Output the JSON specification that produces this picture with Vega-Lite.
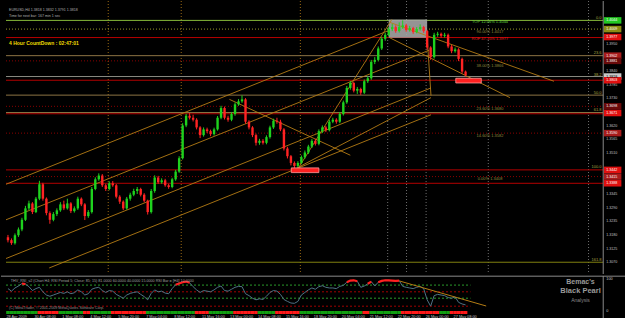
{
"$schema": "https://vega.github.io/schema/vega-lite/v6.json",
"background": "#000000",
"padding": 0,
"spacing": 0,
"config": {"view": {"stroke": null}, "axis": {"disable": true}, "text": {"font": "Liberation Sans"}},
"datasets": {
"bars": [
{"i":0,"o":1.3171,"h":1.3180,"l":1.3150,"c":1.3159,"r":70,"s":"g"},
{"i":1,"o":1.3159,"h":1.3166,"l":1.3140,"c":1.3147,"r":62,"s":"g"},
{"i":2,"o":1.3147,"h":1.3186,"l":1.3141,"c":1.3179,"r":72,"s":"g"},
{"i":3,"o":1.3179,"h":1.3210,"l":1.3172,"c":1.3202,"r":78,"s":"g"},
{"i":4,"o":1.3202,"h":1.3249,"l":1.3195,"c":1.3241,"r":86,"s":"g","ob":"a"},
{"i":5,"o":1.3241,"h":1.3297,"l":1.3236,"c":1.3287,"r":84,"s":"g","ob":"a"},
{"i":6,"o":1.3287,"h":1.3318,"l":1.3280,"c":1.3307,"r":76,"s":"g"},
{"i":7,"o":1.3307,"h":1.3312,"l":1.3264,"c":1.3272,"r":64,"s":"g"},
{"i":8,"o":1.3272,"h":1.3333,"l":1.3268,"c":1.3326,"r":70,"s":"g"},
{"i":9,"o":1.3326,"h":1.3398,"l":1.3320,"c":1.3384,"r":74,"s":"r"},
{"i":10,"o":1.3384,"h":1.3390,"l":1.3318,"c":1.3326,"r":60,"s":"r"},
{"i":11,"o":1.3326,"h":1.3331,"l":1.3259,"c":1.3268,"r":50,"s":"r"},
{"i":12,"o":1.3268,"h":1.3275,"l":1.3225,"c":1.3241,"r":46,"s":"r"},
{"i":13,"o":1.3241,"h":1.3272,"l":1.3235,"c":1.3264,"r":50,"s":"r"},
{"i":14,"o":1.3264,"h":1.3287,"l":1.3256,"c":1.3279,"r":54,"s":"r"},
{"i":15,"o":1.3279,"h":1.3312,"l":1.3273,"c":1.3303,"r":58,"s":"g"},
{"i":16,"o":1.3303,"h":1.3318,"l":1.3280,"c":1.3287,"r":55,"s":"g"},
{"i":17,"o":1.3287,"h":1.3326,"l":1.3282,"c":1.3307,"r":60,"s":"g"},
{"i":18,"o":1.3307,"h":1.3312,"l":1.3268,"c":1.3276,"r":54,"s":"g"},
{"i":19,"o":1.3276,"h":1.3295,"l":1.3270,"c":1.3287,"r":57,"s":"g"},
{"i":20,"o":1.3287,"h":1.3334,"l":1.3281,"c":1.3326,"r":66,"s":"g"},
{"i":21,"o":1.3326,"h":1.3331,"l":1.3296,"c":1.3303,"r":60,"s":"g"},
{"i":22,"o":1.3303,"h":1.3308,"l":1.3240,"c":1.3256,"r":50,"s":"r"},
{"i":23,"o":1.3256,"h":1.3280,"l":1.3249,"c":1.3272,"r":54,"s":"r"},
{"i":24,"o":1.3272,"h":1.3373,"l":1.3266,"c":1.3365,"r":68,"s":"g"},
{"i":25,"o":1.3365,"h":1.3412,"l":1.3360,"c":1.3404,"r":72,"s":"g"},
{"i":26,"o":1.3404,"h":1.3428,"l":1.3398,"c":1.3419,"r":74,"s":"g"},
{"i":27,"o":1.3419,"h":1.3425,"l":1.3373,"c":1.3380,"r":64,"s":"g"},
{"i":28,"o":1.3380,"h":1.3386,"l":1.3357,"c":1.3365,"r":58,"s":"g"},
{"i":29,"o":1.3365,"h":1.3396,"l":1.3360,"c":1.3388,"r":64,"s":"g"},
{"i":30,"o":1.3388,"h":1.3397,"l":1.3374,"c":1.3380,"r":62,"s":"r"},
{"i":31,"o":1.3380,"h":1.3385,"l":1.3327,"c":1.3334,"r":52,"s":"r"},
{"i":32,"o":1.3334,"h":1.3340,"l":1.3305,"c":1.3314,"r":46,"s":"r"},
{"i":33,"o":1.3314,"h":1.3319,"l":1.3280,"c":1.3287,"r":40,"s":"r"},
{"i":34,"o":1.3287,"h":1.3333,"l":1.3282,"c":1.3326,"r":50,"s":"r"},
{"i":35,"o":1.3326,"h":1.3350,"l":1.3318,"c":1.3342,"r":55,"s":"r"},
{"i":36,"o":1.3342,"h":1.3366,"l":1.3336,"c":1.3357,"r":58,"s":"r"},
{"i":37,"o":1.3357,"h":1.3373,"l":1.3345,"c":1.3365,"r":60,"s":"r"},
{"i":38,"o":1.3365,"h":1.3370,"l":1.3335,"c":1.3342,"r":52,"s":"r"},
{"i":39,"o":1.3342,"h":1.3348,"l":1.3311,"c":1.3318,"r":45,"s":"r"},
{"i":40,"o":1.3318,"h":1.3322,"l":1.3262,"c":1.3272,"r":35,"s":"g"},
{"i":41,"o":1.3272,"h":1.3365,"l":1.3266,"c":1.3357,"r":55,"s":"g"},
{"i":42,"o":1.3357,"h":1.3420,"l":1.3350,"c":1.3411,"r":66,"s":"g"},
{"i":43,"o":1.3411,"h":1.3418,"l":1.3386,"c":1.3392,"r":60,"s":"g"},
{"i":44,"o":1.3392,"h":1.3408,"l":1.3386,"c":1.3400,"r":62,"s":"g"},
{"i":45,"o":1.3400,"h":1.3406,"l":1.3374,"c":1.3380,"r":56,"s":"g"},
{"i":46,"o":1.3380,"h":1.3386,"l":1.3366,"c":1.3373,"r":54,"s":"g"},
{"i":47,"o":1.3373,"h":1.3410,"l":1.3368,"c":1.3404,"r":70,"s":"g"},
{"i":48,"o":1.3404,"h":1.3442,"l":1.3398,"c":1.3435,"r":82,"s":"g","ob":"b"},
{"i":49,"o":1.3435,"h":1.3497,"l":1.3430,"c":1.3489,"r":86,"s":"g","ob":"b"},
{"i":50,"o":1.3489,"h":1.3630,"l":1.3484,"c":1.3621,"r":90,"s":"g","ob":"b"},
{"i":51,"o":1.3621,"h":1.3668,"l":1.3614,"c":1.3660,"r":92,"s":"g","ob":"b"},
{"i":52,"o":1.3660,"h":1.3671,"l":1.3645,"c":1.3652,"r":88,"s":"g","ob":"b"},
{"i":53,"o":1.3652,"h":1.3664,"l":1.3637,"c":1.3644,"r":76,"s":"g"},
{"i":54,"o":1.3644,"h":1.3650,"l":1.3605,"c":1.3613,"r":66,"s":"r"},
{"i":55,"o":1.3613,"h":1.3618,"l":1.3570,"c":1.3582,"r":58,"s":"r"},
{"i":56,"o":1.3582,"h":1.3613,"l":1.3576,"c":1.3605,"r":64,"s":"r"},
{"i":57,"o":1.3605,"h":1.3612,"l":1.3590,"c":1.3598,"r":62,"s":"r"},
{"i":58,"o":1.3598,"h":1.3604,"l":1.3578,"c":1.3586,"r":60,"s":"g"},
{"i":59,"o":1.3586,"h":1.3612,"l":1.3580,"c":1.3605,"r":66,"s":"g"},
{"i":60,"o":1.3605,"h":1.3659,"l":1.3600,"c":1.3652,"r":74,"s":"g"},
{"i":61,"o":1.3652,"h":1.3700,"l":1.3646,"c":1.3691,"r":78,"s":"g"},
{"i":62,"o":1.3691,"h":1.3697,"l":1.3645,"c":1.3652,"r":64,"s":"g"},
{"i":63,"o":1.3652,"h":1.3660,"l":1.3636,"c":1.3644,"r":62,"s":"g"},
{"i":64,"o":1.3644,"h":1.3675,"l":1.3638,"c":1.3667,"r":68,"s":"g"},
{"i":65,"o":1.3667,"h":1.3713,"l":1.3660,"c":1.3706,"r":74,"s":"r"},
{"i":66,"o":1.3706,"h":1.3727,"l":1.3700,"c":1.3718,"r":77,"s":"r"},
{"i":67,"o":1.3718,"h":1.3742,"l":1.3712,"c":1.3726,"r":76,"s":"r"},
{"i":68,"o":1.3726,"h":1.3731,"l":1.3628,"c":1.3636,"r":54,"s":"r"},
{"i":69,"o":1.3636,"h":1.3642,"l":1.3605,"c":1.3613,"r":48,"s":"r"},
{"i":70,"o":1.3613,"h":1.3618,"l":1.3574,"c":1.3582,"r":40,"s":"r"},
{"i":71,"o":1.3582,"h":1.3588,"l":1.3540,"c":1.3551,"r":35,"s":"r"},
{"i":72,"o":1.3551,"h":1.3567,"l":1.3543,"c":1.3559,"r":38,"s":"g"},
{"i":73,"o":1.3559,"h":1.3566,"l":1.3544,"c":1.3551,"r":36,"s":"g"},
{"i":74,"o":1.3551,"h":1.3581,"l":1.3545,"c":1.3574,"r":46,"s":"g"},
{"i":75,"o":1.3574,"h":1.3620,"l":1.3568,"c":1.3613,"r":58,"s":"g"},
{"i":76,"o":1.3613,"h":1.3648,"l":1.3607,"c":1.3640,"r":64,"s":"g"},
{"i":77,"o":1.3640,"h":1.3652,"l":1.3628,"c":1.3636,"r":62,"s":"r"},
{"i":78,"o":1.3636,"h":1.3644,"l":1.3598,"c":1.3605,"r":52,"s":"r"},
{"i":79,"o":1.3605,"h":1.3610,"l":1.3520,"c":1.3528,"r":36,"s":"r"},
{"i":80,"o":1.3528,"h":1.3535,"l":1.3488,"c":1.3497,"r":30,"s":"r"},
{"i":81,"o":1.3497,"h":1.3502,"l":1.3460,"c":1.3470,"r":25,"s":"r"},
{"i":82,"o":1.3470,"h":1.3476,"l":1.3442,"c":1.3458,"r":24,"s":"r"},
{"i":83,"o":1.3458,"h":1.3477,"l":1.3450,"c":1.3470,"r":30,"s":"r"},
{"i":84,"o":1.3470,"h":1.3500,"l":1.3465,"c":1.3493,"r":50,"s":"g"},
{"i":85,"o":1.3493,"h":1.3520,"l":1.3487,"c":1.3512,"r":58,"s":"g"},
{"i":86,"o":1.3512,"h":1.3543,"l":1.3506,"c":1.3536,"r":66,"s":"g"},
{"i":87,"o":1.3536,"h":1.3566,"l":1.3530,"c":1.3559,"r":72,"s":"g"},
{"i":88,"o":1.3559,"h":1.3567,"l":1.3540,"c":1.3547,"r":68,"s":"g"},
{"i":89,"o":1.3547,"h":1.3605,"l":1.3541,"c":1.3598,"r":76,"s":"g"},
{"i":90,"o":1.3598,"h":1.3621,"l":1.3590,"c":1.3613,"r":79,"s":"g"},
{"i":91,"o":1.3613,"h":1.3619,"l":1.3594,"c":1.3602,"r":74,"s":"g"},
{"i":92,"o":1.3602,"h":1.3644,"l":1.3597,"c":1.3636,"r":72,"s":"g"},
{"i":93,"o":1.3636,"h":1.3652,"l":1.3630,"c":1.3644,"r":72,"s":"g"},
{"i":94,"o":1.3644,"h":1.3650,"l":1.3628,"c":1.3636,"r":70,"s":"g"},
{"i":95,"o":1.3636,"h":1.3675,"l":1.3630,"c":1.3667,"r":77,"s":"g"},
{"i":96,"o":1.3667,"h":1.3721,"l":1.3661,"c":1.3714,"r":80,"s":"g"},
{"i":97,"o":1.3714,"h":1.3780,"l":1.3708,"c":1.3772,"r":90,"s":"g","ob":"c"},
{"i":98,"o":1.3772,"h":1.3800,"l":1.3765,"c":1.3792,"r":95,"s":"g","ob":"c"},
{"i":99,"o":1.3792,"h":1.3797,"l":1.3754,"c":1.3761,"r":96,"s":"g","ob":"c"},
{"i":100,"o":1.3761,"h":1.3776,"l":1.3748,"c":1.3768,"r":93,"s":"g","ob":"c"},
{"i":101,"o":1.3768,"h":1.3773,"l":1.3744,"c":1.3753,"r":74,"s":"g"},
{"i":102,"o":1.3753,"h":1.3806,"l":1.3748,"c":1.3799,"r":78,"s":"r"},
{"i":103,"o":1.3799,"h":1.3819,"l":1.3792,"c":1.3811,"r":85,"s":"r","ob":"d"},
{"i":104,"o":1.3811,"h":1.3885,"l":1.3805,"c":1.3877,"r":92,"s":"g","ob":"d"},
{"i":105,"o":1.3877,"h":1.3896,"l":1.3868,"c":1.3885,"r":78,"s":"g"},
{"i":106,"o":1.3885,"h":1.3939,"l":1.3879,"c":1.3931,"r":90,"s":"g","ob":"e"},
{"i":107,"o":1.3931,"h":1.3978,"l":1.3925,"c":1.3970,"r":94,"s":"g","ob":"e"},
{"i":108,"o":1.3970,"h":1.3994,"l":1.3962,"c":1.3986,"r":96,"s":"g","ob":"e"},
{"i":109,"o":1.3986,"h":1.4017,"l":1.3980,"c":1.4009,"r":96,"s":"g","ob":"e"},
{"i":110,"o":1.4009,"h":1.4030,"l":1.4001,"c":1.4017,"r":95,"s":"g","ob":"e"},
{"i":111,"o":1.4017,"h":1.4024,"l":1.3994,"c":1.4001,"r":94,"s":"g","ob":"e"},
{"i":112,"o":1.4001,"h":1.4036,"l":1.3995,"c":1.4017,"r":95,"s":"g","ob":"e"},
{"i":113,"o":1.4017,"h":1.4044,"l":1.4010,"c":1.4024,"r":77,"s":"r"},
{"i":114,"o":1.4024,"h":1.4030,"l":1.3998,"c":1.4005,"r":74,"s":"r"},
{"i":115,"o":1.4005,"h":1.4022,"l":1.3999,"c":1.4013,"r":72,"s":"r"},
{"i":116,"o":1.4013,"h":1.4018,"l":1.3990,"c":1.3997,"r":70,"s":"r"},
{"i":117,"o":1.3997,"h":1.4017,"l":1.3992,"c":1.4009,"r":74,"s":"r"},
{"i":118,"o":1.4009,"h":1.4028,"l":1.4003,"c":1.4017,"r":77,"s":"r"},
{"i":119,"o":1.4017,"h":1.4022,"l":1.3994,"c":1.4001,"r":70,"s":"r"},
{"i":120,"o":1.4001,"h":1.4006,"l":1.3926,"c":1.3935,"r":35,"s":"r"},
{"i":121,"o":1.3935,"h":1.3940,"l":1.3885,"c":1.3896,"r":15,"s":"r"},
{"i":122,"o":1.3896,"h":1.3994,"l":1.3890,"c":1.3986,"r":48,"s":"r"},
{"i":123,"o":1.3986,"h":1.3998,"l":1.3978,"c":1.3990,"r":52,"s":"r"},
{"i":124,"o":1.3990,"h":1.3995,"l":1.3974,"c":1.3982,"r":50,"s":"g"},
{"i":125,"o":1.3982,"h":1.3994,"l":1.3975,"c":1.3986,"r":48,"s":"g"},
{"i":126,"o":1.3986,"h":1.3991,"l":1.3932,"c":1.3939,"r":42,"s":"g"},
{"i":127,"o":1.3939,"h":1.3945,"l":1.3912,"c":1.3920,"r":40,"s":"r"},
{"i":128,"o":1.3920,"h":1.3935,"l":1.3914,"c":1.3927,"r":44,"s":"r"},
{"i":129,"o":1.3927,"h":1.3932,"l":1.3880,"c":1.3889,"r":27,"s":"r"},
{"i":130,"o":1.3889,"h":1.3894,"l":1.3830,"c":1.3838,"r":22,"s":"r"},
{"i":131,"o":1.3838,"h":1.3842,"l":1.3818,"c":1.3823,"r":19,"s":"r"}
],
"hl": [
{"p":1.4044,"k":"top"},{"p":1.4009,"k":"dot"},{"p":1.3975,"k":"red"},{"p":1.3902,"k":"fib"},
{"p":1.3881,"k":"rdot"},{"p":1.3818,"k":"grey"},{"p":1.3803,"k":"red"},{"p":1.3743,"k":"fib"},
{"p":1.3698,"k":"rdot"},{"p":1.3673,"k":"fib"},{"p":1.3668,"k":"red"},{"p":1.3590,"k":"rdot"},
{"p":1.3442,"k":"red"},{"p":1.3415,"k":"rdot"},{"p":1.3388,"k":"red"},{"p":1.3070,"k":"olive"}
],
"vl": [
{"i":28.7,"k":"vo"},{"i":49.6,"k":"vo"},{"i":83.7,"k":"vo"},{"i":108.7,"k":"vg"},
{"i":114.1,"k":"vg"},{"i":119.7,"k":"vg"},{"i":137.5,"k":"vg"},{"i":166.2,"k":"vg"}
],
"diag": [
{"id":"L1","i":-0.56,"p":1.3384},{"id":"L1","i":109.3,"p":1.4005},
{"id":"L2","i":-0.56,"p":1.3241},{"id":"L2","i":120.6,"p":1.3924},
{"id":"L3","i":-0.56,"p":1.3085},{"id":"L3","i":121.1,"p":1.3772},
{"id":"L4","i":11.8,"p":1.3047},{"id":"L4","i":121.1,"p":1.3664},
{"id":"D1","i":63.4,"p":1.3726},{"id":"D1","i":98.0,"p":1.3501},
{"id":"D2","i":109.3,"p":1.4036},{"id":"D2","i":156.3,"p":1.3799},
{"id":"D3","i":109.3,"p":1.3974},{"id":"D3","i":143.7,"p":1.3733},
{"id":"F1","i":82.8,"p":1.3442},{"id":"F1","i":109.9,"p":1.4048},
{"id":"F2","i":82.8,"p":1.3450},{"id":"F2","i":121.1,"p":1.3733},
{"id":"D4","i":120.0,"p":1.3978},{"id":"D4","i":121.1,"p":1.3741}
],
"zones": [
{"i1":109.0,"i2":120.0,"p1":1.4048,"p2":1.3974,"k":"box"},
{"i1":81.1,"i2":89.0,"p1":1.3450,"p2":1.3431,"k":"mk"},
{"i1":128.2,"i2":135.5,"p1":1.3811,"p2":1.3792,"k":"mk"}
],
"fibR": [
{"t":"0.0","p":1.4044},{"t":"23.6","p":1.3902},{"t":"38.2","p":1.3814},{"t":"50.0","p":1.3743},
{"t":"61.8","p":1.3672},{"t":"100.0","p":1.3442},{"t":"161.8","p":1.3070}
],
"fibT": [
{"t":"TOP 12.06%  1.4044","p":1.4036,"k":"g"},{"t":"90.00%  1.4017","p":1.3997,"k":"o"},
{"t":"ROF 47.35%  1.3977","p":1.3970,"k":"r"},{"t":"38.00%  1.3866","p":1.3861,"k":"o"},
{"t":"23.60%  1.3680","p":1.3687,"k":"o"},{"t":"14.60%  1.3582","p":1.3578,"k":"o"},
{"t":"0.00%  1.3408","p":1.3407,"k":"o"}
],
"tags": [
{"p":1.4044,"k":"g"},{"p":1.4009,"k":"y"},{"p":1.3977,"k":"r"},{"p":1.3902,"k":"r2"},
{"p":1.3881,"k":"dr"},{"p":1.3818,"k":"w"},{"p":1.3803,"k":"r"},{"p":1.3698,"k":"dr"},
{"p":1.3671,"k":"r"},{"p":1.3590,"k":"r2"},{"p":1.3442,"k":"r"},{"p":1.3415,"k":"r2"},{"p":1.3388,"k":"r"}
],
"ax": [
{"p":1.3950},{"p":1.3840},{"p":1.3785},{"p":1.3730},{"p":1.3620},{"p":1.3565},{"p":1.3510},
{"p":1.3345},{"p":1.3290},{"p":1.3235},{"p":1.3180},{"p":1.3125},{"p":1.3070}
],
"lv": [{"v":81,"k":"g"},{"v":60,"k":"r"},{"v":40,"k":"g"},{"v":15,"k":"r"}],
"dates": [
{"b":0,"t":"28 Apr 2009"},{"b":8,"t":"30 Apr 08:00"},{"b":16,"t":"1 May 08:00"},{"b":24,"t":"4 May 12:00"},
{"b":32,"t":"5 May 20:00"},{"b":40,"t":"7 May 04:00"},{"b":48,"t":"8 May 12:00"},{"b":56,"t":"11 May 16:00"},
{"b":64,"t":"13 May 00:00"},{"b":72,"t":"14 May 08:00"},{"b":80,"t":"15 May 16:00"},{"b":88,"t":"18 May 20:00"},
{"b":96,"t":"20 May 04:00"},{"b":104,"t":"21 May 12:00"},{"b":112,"t":"22 May 20:00"},{"b":120,"t":"26 May 00:00"},
{"b":128,"t":"27 May 08:00"}
]
},
"vconcat": [
{
"width": 625, "height": 273,
"layer": [
{"data": {"name": "vl"}, "mark": {"type": "rule", "strokeWidth": 1},
 "encoding": {
  "x": {"field": "i", "type": "quantitative", "axis": null, "scale": {"domain": [-0.5634, 175.493], "nice": false, "zero": false}},
  "color": {"field": "k", "type": "nominal", "legend": null, "scale": {"domain": ["top","dot","red","fib","rdot","grey","olive","vo","vg"], "range": ["#86b83a","#9a9a2a","#b40000","#8c7444","#8a0000","#8a8a80","#808010","#9a6a14","#6e6e6e"]}},
  "strokeDash": {"field": "k", "type": "nominal", "legend": null, "scale": {"domain": ["top","dot","red","fib","rdot","grey","olive","vo","vg"], "range": [[1,0],[1,2],[1,0],[1,0],[1,2],[1,0],[1,0],[1,2],[1,2]]}}
 }},
{"data": {"name": "hl"}, "mark": {"type": "rule", "strokeWidth": 1},
 "encoding": {
  "y": {"field": "p", "type": "quantitative", "axis": null, "scale": {"domain": [1.30428, 1.4102], "nice": false, "zero": false}},
  "x": {"datum": -0.5634},
  "x2": {"datum": 170.4},
  "color": {"field": "k", "type": "nominal", "legend": null},
  "strokeDash": {"field": "k", "type": "nominal", "legend": null}
 }},
{"data": {"name": "zones"}, "transform": [{"filter": "datum.k == 'box'"}],
 "mark": {"type": "rect", "color": "#a4a4a4", "opacity": 0.9},
 "encoding": {"x": {"field": "i1", "type": "quantitative"}, "x2": {"field": "i2"}, "y": {"field": "p1", "type": "quantitative"}, "y2": {"field": "p2"}}},
{"data": {"name": "diag"}, "mark": {"type": "line", "color": "#b47c14", "strokeWidth": 0.9},
 "encoding": {"x": {"field": "i", "type": "quantitative"}, "y": {"field": "p", "type": "quantitative"}, "detail": {"field": "id"}}},
{"data": {"name": "bars"}, "mark": {"type": "rule", "strokeWidth": 1},
 "encoding": {"x": {"field": "i", "type": "quantitative"}, "y": {"field": "l", "type": "quantitative"}, "y2": {"field": "h"},
  "color": {"condition": {"test": "datum.c >= datum.o", "value": "#1ed21e"}, "value": "#ff2323"}}},
{"data": {"name": "bars"}, "mark": {"type": "bar", "width": 2.4},
 "encoding": {"x": {"field": "i", "type": "quantitative"}, "y": {"field": "o", "type": "quantitative"}, "y2": {"field": "c"},
  "color": {"condition": {"test": "datum.c >= datum.o", "value": "#1ed21e"}, "value": "#ff2323"}}},
{"data": {"name": "zones"}, "transform": [{"filter": "datum.k == 'mk'"}],
 "mark": {"type": "rect", "color": "#ff2020", "stroke": "#ff9a9a", "strokeWidth": 0.8},
 "encoding": {"x": {"field": "i1", "type": "quantitative"}, "x2": {"field": "i2"}, "y": {"field": "p1", "type": "quantitative"}, "y2": {"field": "p2"}}},
{"data": {"name": "fibR"}, "mark": {"type": "text", "align": "right", "baseline": "bottom", "fontSize": 4, "color": "#a8a040", "dy": -0.5},
 "encoding": {"x": {"datum": 169.9}, "y": {"field": "p", "type": "quantitative"}, "text": {"field": "t"}}},
{"data": {"name": "fibT"}, "mark": {"type": "text", "align": "center", "baseline": "middle", "fontSize": 4},
 "encoding": {"x": {"datum": 138}, "y": {"field": "p", "type": "quantitative"}, "text": {"field": "t"},
  "color": {"condition": [{"test": "datum.k == 'g'", "value": "#5fd23a"}, {"test": "datum.k == 'r'", "value": "#e02020"}], "value": "#8e8a3c"}}},
{"data": {"values": [{}]}, "mark": {"type": "text", "align": "left", "baseline": "middle", "fontSize": 3.6, "color": "#b0b0b0"},
 "encoding": {"x": {"datum": 0.3}, "y": {"datum": 1.4085}, "text": {"value": "EURUSD,H4  1.3818 1.3832 1.3791 1.3818"}}},
{"data": {"values": [{}]}, "mark": {"type": "text", "align": "left", "baseline": "middle", "fontSize": 3.6, "color": "#b0b0b0"},
 "encoding": {"x": {"datum": 0.3}, "y": {"datum": 1.4063}, "text": {"value": "Time for next bar: 167 min 1 sec"}}},
{"data": {"values": [{}]}, "mark": {"type": "text", "align": "left", "baseline": "middle", "fontSize": 5, "fontWeight": "bold", "color": "#f0dc00"},
 "encoding": {"x": {"datum": 0.3}, "y": {"datum": 1.3955}, "text": {"value": "4 Hour CountDown :    02:47:01"}}},
{"data": {"values": [{}]}, "mark": {"type": "rule", "color": "#8a8a8a", "strokeWidth": 1},
 "encoding": {"x": {"datum": 170.4}}},
{"data": {"name": "ax"}, "mark": {"type": "text", "align": "left", "baseline": "middle", "fontSize": 3.6, "color": "#c4c4c4"},
 "encoding": {"x": {"datum": 171.3}, "y": {"field": "p", "type": "quantitative"}, "text": {"field": "p", "type": "quantitative", "format": ".4f"}}},
{"data": {"name": "tags"}, "mark": {"type": "bar", "height": 6.5},
 "encoding": {"x": {"datum": 170.6}, "x2": {"datum": 175.6}, "y": {"field": "p", "type": "quantitative"},
  "color": {"condition": [{"test": "datum.k == 'g'", "value": "#22c822"}, {"test": "datum.k == 'y'", "value": "#8c8c14"}, {"test": "datum.k == 'r2'", "value": "#a81c1c"}, {"test": "datum.k == 'dr'", "value": "#6a0a0a"}, {"test": "datum.k == 'w'", "value": "#c8c8c8"}], "value": "#e01010"}}},
{"data": {"name": "tags"}, "mark": {"type": "text", "align": "left", "baseline": "middle", "fontSize": 3.6},
 "encoding": {"x": {"datum": 171.3}, "y": {"field": "p", "type": "quantitative"}, "text": {"field": "p", "type": "quantitative", "format": ".4f"},
  "color": {"condition": {"test": "datum.k == 'w'", "value": "#000000"}, "value": "#ffffff"}}}
]
},
{
"width": 625, "height": 45,
"layer": [
{"data": {"name": "lv"}, "mark": {"type": "rule", "strokeWidth": 1, "strokeDash": [2, 2]},
 "encoding": {
  "y": {"field": "v", "type": "quantitative", "axis": null, "scale": {"domain": [-31.25, 109.375], "nice": false, "zero": false}},
  "x": {"datum": -0.5634, "scale": {"domain": [-0.5634, 175.493], "nice": false, "zero": false}, "axis": null},
  "x2": {"datum": 132.4},
  "color": {"condition": {"test": "datum.k == 'g'", "value": "#2a9a2a"}, "value": "#a00000"}}},
{"data": {"values": [{}]}, "mark": {"type": "rule", "color": "#8a8a8a", "strokeWidth": 1},
 "encoding": {"y": {"datum": 108.8}}},
{"data": {"name": "bars"}, "mark": {"type": "line", "color": "#4f7284", "strokeWidth": 1},
 "encoding": {"x": {"field": "i", "type": "quantitative"}, "y": {"field": "r", "type": "quantitative"}}},
{"data": {"name": "bars"}, "transform": [{"filter": "isValid(datum.ob)"}], "mark": {"type": "line", "color": "#ff2020", "strokeWidth": 2.2},
 "encoding": {"x": {"field": "i", "type": "quantitative"}, "y": {"field": "r", "type": "quantitative"}, "detail": {"field": "ob"}}},
{"data": {"values": [{}]}, "mark": {"type": "rule", "color": "#b47c14", "strokeWidth": 1},
 "encoding": {"x": {"datum": 112.1}, "y": {"datum": 93.75}, "x2": {"datum": 136.9}, "y2": {"datum": 15.6}}},
{"data": {"name": "bars"}, "mark": {"type": "bar", "width": 3.6},
 "encoding": {"x": {"field": "i", "type": "quantitative"}, "y": {"datum": 0}, "y2": {"datum": -9.4},
  "color": {"condition": {"test": "datum.s == 'r'", "value": "#ff1a1a"}, "value": "#12a012"}}},
{"data": {"name": "dates"}, "mark": {"type": "text", "align": "left", "baseline": "middle", "fontSize": 3.8, "color": "#c4c4c4", "dx": -1.5},
 "encoding": {"x": {"field": "b", "type": "quantitative"}, "y": {"datum": -17.2}, "text": {"field": "t"}}},
{"data": {"values": [{}]}, "mark": {"type": "text", "align": "left", "baseline": "middle", "fontSize": 3.7, "color": "#a0a0a0"},
 "encoding": {"x": {"datum": 0.8}, "y": {"datum": 95.3}, "text": {"value": "THV_RSI_v2 (Chart H4; RSI Period 5; Close; 85; 15)  81.0000 60.0000 40.0000 15.0000  RSI Bar = [H4]  10.0000"}}},
{"data": {"values": [{}]}, "mark": {"type": "text", "align": "left", "baseline": "middle", "fontSize": 3.7, "color": "#909090"},
 "encoding": {"x": {"datum": 0.3}, "y": {"datum": 10.9}, "text": {"value": "(C)  MetaTrader,  © 2001-2009 MetaQuotes Software Corp."}}},
{"data": {"values": [{}]}, "mark": {"type": "text", "align": "center", "baseline": "middle", "fontSize": 7, "fontWeight": "bold", "color": "#9a9a9a"},
 "encoding": {"x": {"datum": 163.9}, "y": {"datum": 90.6}, "text": {"value": "Bemac's"}}},
{"data": {"values": [{}]}, "mark": {"type": "text", "align": "center", "baseline": "middle", "fontSize": 7.5, "fontWeight": "bold", "color": "#9a9a9a"},
 "encoding": {"x": {"datum": 163.9}, "y": {"datum": 62.5}, "text": {"value": "Black Pearl"}}},
{"data": {"values": [{}]}, "mark": {"type": "text", "align": "center", "baseline": "middle", "fontSize": 5, "color": "#8a8a8a"},
 "encoding": {"x": {"datum": 163.9}, "y": {"datum": 34.4}, "text": {"value": "Analysis"}}},
{"data": {"values": [{}]}, "mark": {"type": "rule", "color": "#8a8a8a", "strokeWidth": 1},
 "encoding": {"x": {"datum": 170.4}}},
{"data": {"values": [{}]}, "mark": {"type": "text", "align": "left", "baseline": "middle", "fontSize": 3.8, "color": "#c4c4c4"},
 "encoding": {"x": {"datum": 171.3}, "y": {"datum": 100}, "text": {"value": "100"}}},
{"data": {"values": [{}]}, "mark": {"type": "text", "align": "left", "baseline": "middle", "fontSize": 3.8, "color": "#c4c4c4"},
 "encoding": {"x": {"datum": 171.3}, "y": {"datum": 0}, "text": {"value": "0"}}}
]
}
]
}
